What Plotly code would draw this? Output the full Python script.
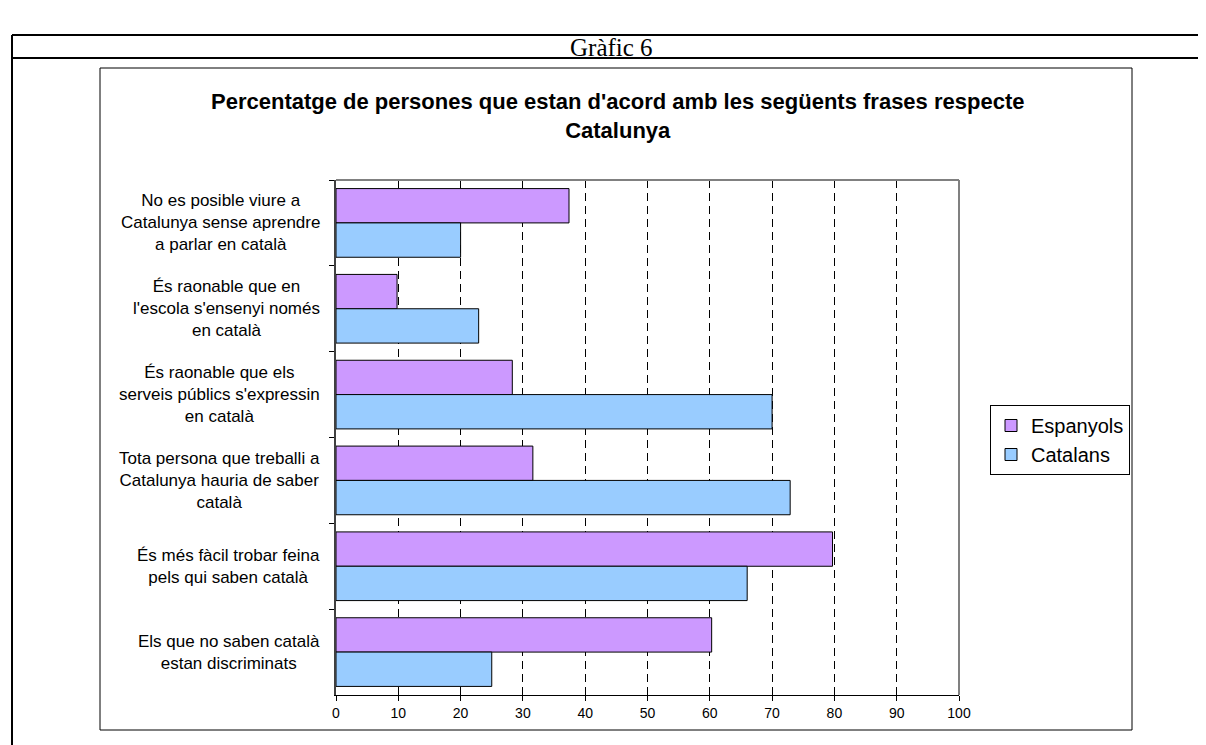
import plotly.graph_objects as go

# statements shown on the y axis (top to bottom)
categories = [
    "No es posible viure a<br>Catalunya sense aprendre<br>a parlar en català",
    "És raonable que en<br>l'escola s'ensenyi només<br>en català",
    "És raonable que els<br>serveis públics s'expressin<br>en català",
    "Tota persona que treballi a<br>Catalunya hauria de saber<br>català",
    "És més fàcil trobar feina<br>pels qui saben català",
    "Els que no saben català<br>estan discriminats",
]
espanyols = [37.4, 9.8, 28.3, 31.6, 79.7, 60.3]
catalans = [20.0, 22.9, 70.0, 72.9, 66.0, 25.0]
x_ticks = [0, 10, 20, 30, 40, 50, 60, 70, 80, 90, 100]

W, H = 1206, 745
# plot area in pixels
PL, PR, PT, PB = 328, 951, 172, 687


def px(x):
    return (x - PL) / (PR - PL)


def py(y):
    return (PB - y) / (PB - PT)


fig = go.Figure()
fig.add_trace(go.Bar(
    y=categories, x=espanyols, name="Espanyols", orientation="h",
    legendgroup="esp",
    marker=dict(color="#CC99FF", line=dict(color="black", width=1))))
fig.add_trace(go.Bar(
    y=categories, x=catalans, name="Catalans", orientation="h",
    legendgroup="cat",
    marker=dict(color="#99CCFF", line=dict(color="black", width=1))))

fig.update_layout(
    width=W, height=H,
    margin=dict(l=PL, r=W - PR, t=PT, b=H - PB, pad=0),
    paper_bgcolor="white", plot_bgcolor="white",
    barmode="group", bargap=0.2, bargroupgap=0,
    font=dict(family="Liberation Sans", color="black"),
    showlegend=True,
    legend=dict(x=px(982), y=py(397), xanchor="left", yanchor="top",
                bordercolor="black", borderwidth=1, bgcolor="white",
                font=dict(size=20), traceorder="normal", tracegroupgap=4),
)

fig.update_xaxes(
    range=[0, 100], tickvals=x_ticks, ticks="outside", ticklen=5,
    tickcolor="black", tickfont=dict(size=14),
    showgrid=True, gridcolor="black", gridwidth=1, griddash="8px,5px",
    showline=True, linecolor="black", linewidth=1, zeroline=False)

fig.update_yaxes(
    type="category", autorange="reversed", tickson="boundaries",
    ticks="outside", ticklen=5, tickcolor="black", showticklabels=False,
    showgrid=False, showline=True, linecolor="#404040", linewidth=2)

# category labels, centred lines, right edge next to the axis
for c in categories:
    fig.add_annotation(x=px(314), xref="paper", y=c, yref="y",
                       xanchor="right", text=c, showarrow=False,
                       align="center", font=dict(size=17))

# chart title
fig.add_annotation(
    x=px(609), y=py(108), xref="paper", yref="paper",
    xanchor="center", yanchor="middle", showarrow=False, align="center",
    text="<b>Percentatge de persones que estan d'acord amb les següents frases respecte<br>Catalunya</b>",
    font=dict(size=22))

# page header
fig.add_annotation(
    x=px(603), y=py(39), xref="paper", yref="paper",
    xanchor="center", yanchor="middle", showarrow=False,
    text="Gràfic 6", font=dict(family="Liberation Serif", size=25))

line_k = dict(xref="paper", yref="paper", type="line")
# outer table lines
fig.add_shape(x0=px(4), x1=px(1220), y0=py(27), y1=py(27),
              line=dict(color="black", width=2), **line_k)
fig.add_shape(x0=px(4), x1=px(1220), y0=py(50), y1=py(50),
              line=dict(color="black", width=2), **line_k)
fig.add_shape(x0=px(4), x1=px(4), y0=py(27), y1=py(760),
              line=dict(color="black", width=2), **line_k)
# chart area box
fig.add_shape(type="rect", xref="paper", yref="paper",
              x0=px(92), x1=px(1124), y0=py(60), y1=py(722),
              line=dict(color="black", width=1))
# grey top/right border of the plot area
fig.add_shape(x0=0, x1=1, y0=1, y1=1, layer="above",
              line=dict(color="#808080", width=2), **line_k)
fig.add_shape(x0=1, x1=1, y0=0, y1=1, layer="above",
              line=dict(color="#808080", width=2), **line_k)

fig.write_html("out.html")
